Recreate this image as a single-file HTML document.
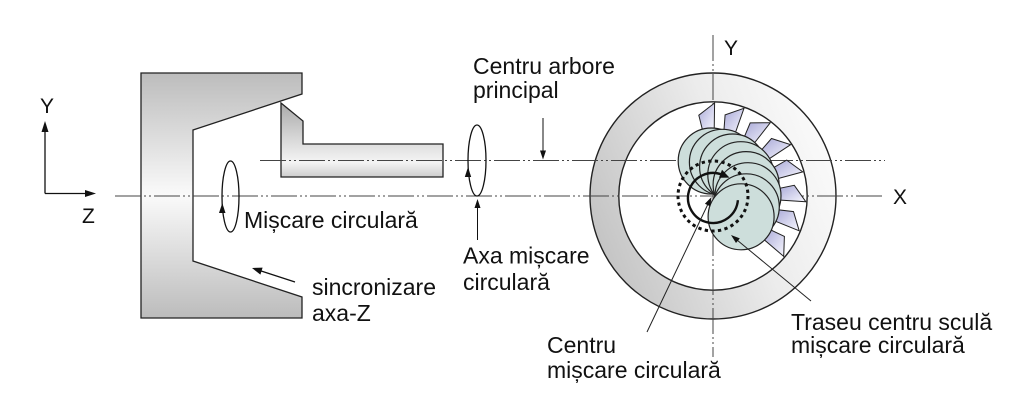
<!DOCTYPE html>
<html><head><meta charset="utf-8"><style>
html,body{margin:0;padding:0;background:#fff;}
svg{display:block;}
text{font-family:"Liberation Sans",Arial,sans-serif;fill:#111;}
</style></head><body>
<svg width="1024" height="415" viewBox="0 0 1024 415" xmlns="http://www.w3.org/2000/svg">
<defs>
<linearGradient id="gChuck" x1="0" y1="0" x2="0" y2="1">
<stop offset="0" stop-color="#bcbcbc"/><stop offset="0.5" stop-color="#fafafa"/><stop offset="1" stop-color="#bcbcbc"/>
</linearGradient>
<linearGradient id="gTool" x1="0" y1="0" x2="0" y2="1">
<stop offset="0" stop-color="#a9a9a9"/><stop offset="0.5" stop-color="#d9d9d9"/><stop offset="0.8" stop-color="#f4f4f4"/><stop offset="1" stop-color="#cdcdcd"/>
</linearGradient>
<linearGradient id="gRing" x1="0" y1="0.7" x2="1" y2="0.3">
<stop offset="0" stop-color="#c2c2c2"/><stop offset="0.6" stop-color="#ececec"/><stop offset="1" stop-color="#fbfbfb"/>
</linearGradient>
<linearGradient id="gIns" x1="0" y1="0" x2="1" y2="1">
<stop offset="0" stop-color="#a8a8d6"/><stop offset="1" stop-color="#f8f8ff"/>
</linearGradient>
</defs>

<!-- chuck -->
<polygon points="141,73 302,73 302,94 193,130 193,261 302,297 302,318 141,318" fill="url(#gChuck)" stroke="#222" stroke-width="1.3"/>
<!-- tool bar -->
<polygon points="281,103 303,121 303,144 443,144 443,177 281,177" fill="url(#gTool)" stroke="#222" stroke-width="1.3"/>

<!-- ring -->
<circle cx="713" cy="196" r="123" fill="url(#gRing)" stroke="#222" stroke-width="1.4"/>
<circle cx="713" cy="196" r="94.2" fill="#fff" stroke="#222" stroke-width="1.4"/>

<!-- axes dash-dot -->
<g stroke="#444" stroke-width="1" stroke-dasharray="26 3 2 3 2 3" fill="none">
<line x1="115" y1="196" x2="884" y2="196"/>
<line x1="260" y1="160.5" x2="885" y2="160.5"/>
<line x1="713" y1="35" x2="713" y2="357"/>
</g>

<!-- left coordinate system -->
<g stroke="#111" stroke-width="1.3" fill="none">
<line x1="45" y1="130" x2="45" y2="193.5"/>
<line x1="45" y1="193.5" x2="87" y2="193.5"/>
</g>
<polygon points="45,121 41.5,132 48.5,132" fill="#111"/>
<polygon points="96,193.5 85,190 85,197" fill="#111"/>
<text x="40" y="113" font-size="21">Y</text>
<text x="82" y="223" font-size="21">Z</text>

<!-- ellipse 1 -->
<ellipse cx="230.5" cy="196.5" rx="8.5" ry="35.5" fill="none" stroke="#111" stroke-width="1.3"/>
<polygon points="222.3,203 219,213 225.5,213" fill="#111"/>
<text x="244" y="228" font-size="23">Mișcare circulară</text>

<!-- sincronizare arrow -->
<line x1="295" y1="282" x2="260" y2="270.6" stroke="#111" stroke-width="1.3"/>
<polygon points="252,268 262.6,267.6 260.4,274.6" fill="#111"/>
<text x="312" y="295" font-size="23">sincronizare</text>
<text x="312" y="321" font-size="23">axa-Z</text>

<!-- ellipse 2 -->
<ellipse cx="477" cy="160.5" rx="9" ry="35.5" fill="none" stroke="#111" stroke-width="1.3"/>
<polygon points="468,167 464.8,177 471.2,177" fill="#111"/>
<line x1="477.5" y1="240" x2="477.5" y2="206" stroke="#111" stroke-width="1"/>
<polygon points="477.5,199 474.5,208 480.5,208" fill="#111"/>
<text x="463" y="263.5" font-size="23">Axa mișcare</text>
<text x="463" y="290" font-size="23">circulară</text>

<!-- centru arbore -->
<line x1="543" y1="118" x2="543" y2="152" stroke="#111" stroke-width="1"/>
<polygon points="543,159.5 540,150.5 546,150.5" fill="#111"/>
<text x="473" y="74" font-size="23">Centru arbore</text>
<text x="473" y="98" font-size="23">principal</text>

<!-- inserts -->
<g fill="url(#gIns)" stroke="#222" stroke-width="1" stroke-linejoin="miter">
<polygon points="714.6,103 714.2,130 702.7,130.8 698.8,115.2"/>
<polygon points="744,108.3 735,133.8 723.9,130.9 725.1,114.9"/>
<polygon points="770.3,122.7 753.6,144 744,137.7 750.2,122.9"/>
<polygon points="790.6,144.7 768,159.6 760.9,150.6 771.5,138.5"/>
<polygon points="802.8,171.9 776.8,178.9 772.8,168.1 786.7,160.1"/>
<polygon points="805.8,201.7 778.9,200 778.6,188.5 794.3,185.3"/>
<polygon points="799.2,230.8 774.2,220.7 777.6,209.7 793.5,211.6"/>
<polygon points="783.7,256.4 763.2,238.9 769.9,229.5 784.4,236.4"/>
</g>

<!-- discs -->
<g fill="#cddedb" stroke="#222" stroke-width="1.2">
<circle cx="711.2" cy="161" r="33"/>
<circle cx="722.4" cy="162.3" r="33"/>
<circle cx="732.6" cy="167" r="33"/>
<circle cx="740.8" cy="174.7" r="33"/>
<circle cx="746.1" cy="184.6" r="33"/>
<circle cx="748" cy="195.7" r="33"/>
<circle cx="746.3" cy="206.8" r="33"/>
<circle cx="741.1" cy="216.8" r="33"/>
</g>

<!-- dotted tool center path -->
<circle cx="713" cy="196" r="35" fill="none" stroke="#111" stroke-width="3" stroke-dasharray="3.3 3.36"/>
<!-- circular motion arrow -->
<path d="M 737.9 200.2 A 25 25 0 1 1 722.4 174.8" fill="none" stroke="#111" stroke-width="2.4"/>
<polygon points="729.5,177.6 719,177.8 722,169.8" fill="#111"/>

<!-- pointers -->
<line x1="647" y1="332" x2="708" y2="204" stroke="#222" stroke-width="1"/>
<polygon points="711.5,197 710.3,206.4 704.9,203.8" fill="#111"/>
<line x1="811" y1="301" x2="737" y2="240" stroke="#222" stroke-width="1"/>
<polygon points="731,235 739.8,238.4 736,243" fill="#111"/>

<text x="724" y="55" font-size="21">Y</text>
<text x="893" y="204" font-size="21">X</text>
<text x="791" y="330" font-size="23">Traseu centru sculă</text>
<text x="791" y="353" font-size="23">mișcare circulară</text>
<text x="547" y="353" font-size="23">Centru</text>
<text x="547" y="378" font-size="23">mișcare circulară</text>
</svg>
</body></html>
